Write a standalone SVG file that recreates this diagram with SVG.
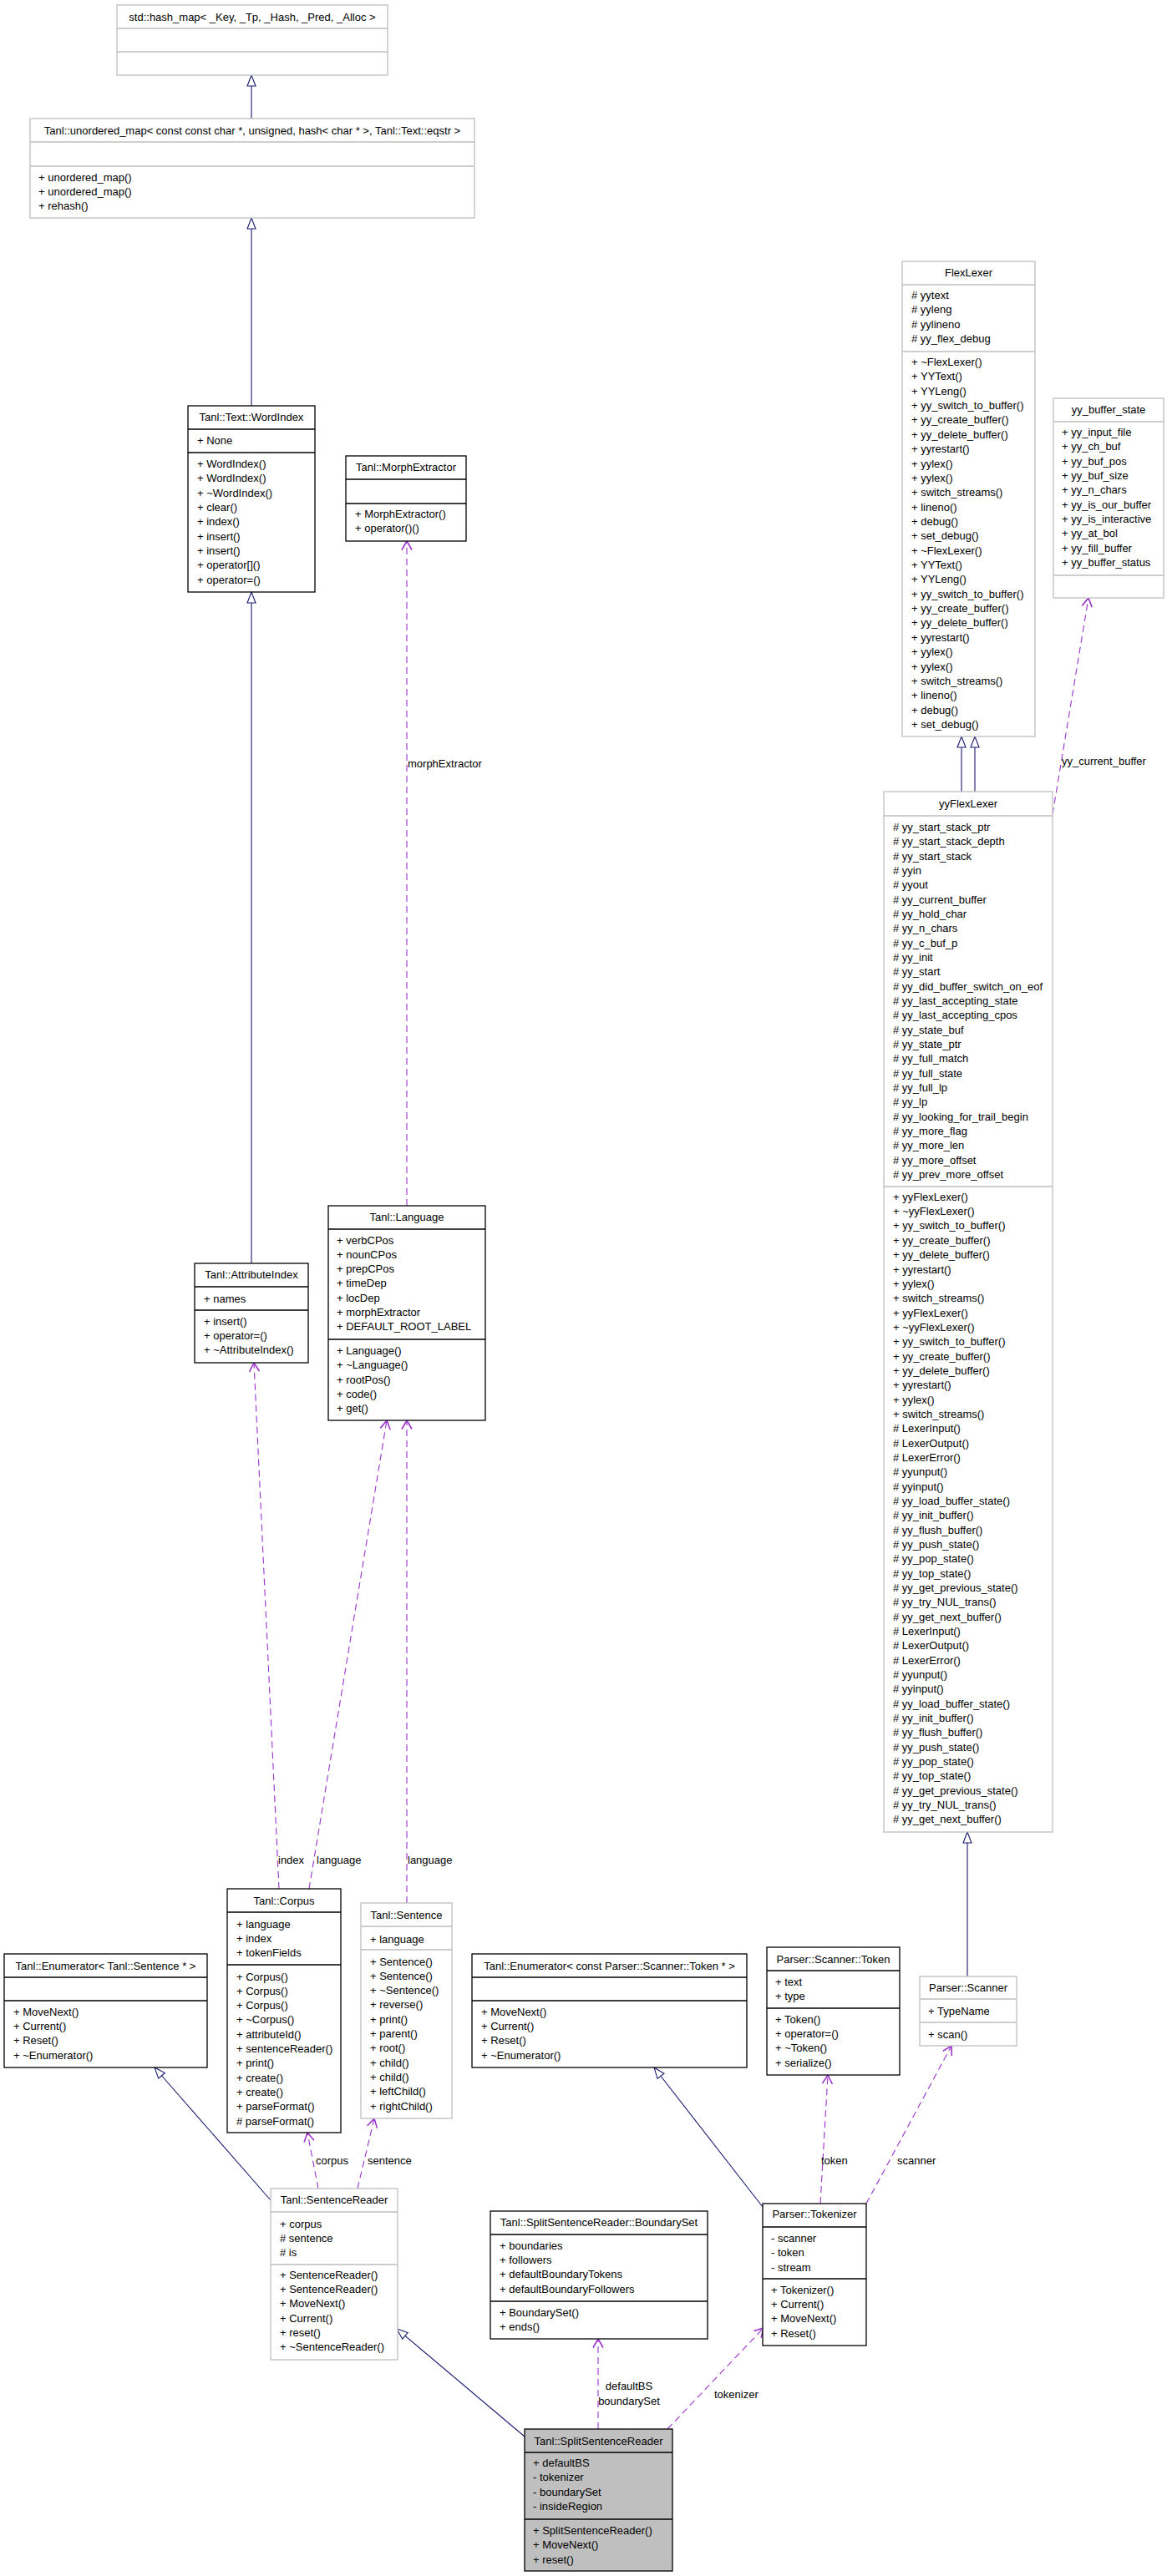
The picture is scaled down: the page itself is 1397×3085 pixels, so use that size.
<svg xmlns="http://www.w3.org/2000/svg" width="1397" height="3085" viewBox="0 0 1397 3085">
<style>
text{font-family:"Liberation Sans",Arial,Helvetica,sans-serif;font-size:13px;fill:#000}
.c{text-anchor:middle}
.bk{fill:#fff;stroke:#000;stroke-width:1.3}
.gr{fill:#fff;stroke:#bfbfbf;stroke-width:1.3}
.sel{fill:#bfbfbf;stroke:#000;stroke-width:1.3}
.dk{stroke:#000;stroke-width:1.3}
.dg{stroke:#bfbfbf;stroke-width:1.3}
.inh{fill:none;stroke:#191970;stroke-width:1.1;marker-end:url(#tri)}
.dep{fill:none;stroke:#9a32cd;stroke-width:1.1;stroke-dasharray:8,5;marker-end:url(#vee)}
</style>
<defs>
<marker id="tri" markerUnits="userSpaceOnUse" viewBox="0 0 15 12" markerWidth="15" markerHeight="12" refX="14" refY="6" orient="auto">
<path d="M1,1 L14,6 L1,11 Z" fill="#fff" stroke="#191970" stroke-width="1.1"/>
</marker>
<marker id="vee" markerUnits="userSpaceOnUse" viewBox="0 0 14 14" markerWidth="14" markerHeight="14" refX="12.5" refY="7" orient="auto">
<path d="M2,1 L12.5,7 L2,13" fill="none" stroke="#9a32cd" stroke-width="1.6" stroke-dasharray="none"/>
</marker>
</defs>
<rect width="1397" height="3085" fill="#fff"/>

<g id="connectors">
<path class="inh" d="M301,142 L301,90"/>
<path class="inh" d="M301,486 L301,261"/>
<path class="inh" d="M301,1513 L301,709"/>
<path class="inh" d="M1151,948 L1151,882"/>
<path class="inh" d="M1167,948 L1167,882"/>
<path class="inh" d="M1158,2367 L1158,2194"/>
<path class="inh" d="M324,2635 L185,2476"/>
<path class="inh" d="M628,2918 L475,2789"/>
<path class="inh" d="M913,2643 L783,2476"/>
<path class="dep" d="M487,1444 L487,648"/>
<path class="dep" d="M334,2262 L304,1632"/>
<path class="dep" d="M370,2262 L463,1701"/>
<path class="dep" d="M487,2279 L487,1701"/>
<path class="dep" d="M381,2621 L368,2554"/>
<path class="dep" d="M428,2621 L448,2537"/>
<path class="dep" d="M716,2909 L716,2801"/>
<path class="dep" d="M799,2909 L914,2788"/>
<path class="dep" d="M982,2639 L991,2485"/>
<path class="dep" d="M1037,2639 L1139,2450"/>
<path class="dep" d="M1260,975 L1303,716"/>
<text x="488" y="918.5">morphExtractor</text>
<text x="1271" y="915.5">yy_current_buffer</text>
<text x="333" y="2231.5">index</text>
<text x="379" y="2231.5">language</text>
<text x="488" y="2231.5">language</text>
<text x="378" y="2591.5">corpus</text>
<text x="440" y="2591.5">sentence</text>
<text x="983" y="2591.5">token</text>
<text x="1074" y="2591.5">scanner</text>
<text class="c" x="753" y="2861.5">defaultBS</text>
<text class="c" x="753" y="2879.5">boundarySet</text>
<text x="855" y="2871.5">tokenizer</text>
</g>

<g id="hash_map">
<rect class="gr" x="140" y="6" width="324" height="84"/>
<path class="dg" d="M140,34 H464 M140,62 H464"/>
<text class="c" x="302" y="24.5">std::hash_map&lt; _Key, _Tp, _Hash, _Pred, _Alloc &gt;</text>
</g>

<g id="unordered_map">
<rect class="gr" x="36" y="142" width="532" height="119"/>
<path class="dg" d="M36,170 H568 M36,199 H568"/>
<text class="c" x="302" y="160.5">Tanl::unordered_map&lt; const const char *, unsigned, hash&lt; char * &gt;, Tanl::Text::eqstr &gt;</text>
<text x="46" y="216.5"><tspan x="46">+ unordered_map()</tspan><tspan x="46" dy="17.4">+ unordered_map()</tspan><tspan x="46" dy="17.4">+ rehash()</tspan></text>
</g>

<g id="WordIndex">
<rect class="bk" x="225" y="486" width="152" height="223"/>
<path class="dk" d="M225,514 H377 M225,542 H377"/>
<text class="c" x="301" y="503.5">Tanl::Text::WordIndex</text>
<text x="236" y="531.5">+ None</text>
<text x="236" y="559.8"><tspan x="236">+ WordIndex()</tspan><tspan x="236" dy="17.35">+ WordIndex()</tspan><tspan x="236" dy="17.35">+ ~WordIndex()</tspan><tspan x="236" dy="17.35">+ clear()</tspan><tspan x="236" dy="17.35">+ index()</tspan><tspan x="236" dy="17.35">+ insert()</tspan><tspan x="236" dy="17.35">+ insert()</tspan><tspan x="236" dy="17.35">+ operator[]()</tspan><tspan x="236" dy="17.35">+ operator=()</tspan></text>
</g>

<g id="MorphExtractor">
<rect class="bk" x="414" y="546" width="144" height="102"/>
<path class="dk" d="M414,574 H558 M414,603 H558"/>
<text class="c" x="486" y="564">Tanl::MorphExtractor</text>
<text x="425" y="619.5"><tspan x="425">+ MorphExtractor()</tspan><tspan x="425" dy="17.4">+ operator()()</tspan></text>
</g>

<g id="FlexLexer">
<rect class="gr" x="1080" y="313" width="159" height="569"/>
<path class="dg" d="M1080,341 H1239 M1080,421 H1239"/>
<text class="c" x="1159.5" y="330.5">FlexLexer</text>
<text x="1091" y="358"><tspan x="1091"># yytext</tspan><tspan x="1091" dy="17.35"># yyleng</tspan><tspan x="1091" dy="17.35"># yylineno</tspan><tspan x="1091" dy="17.35"># yy_flex_debug</tspan></text>
<text x="1091" y="438"><tspan x="1091">+ ~FlexLexer()</tspan><tspan x="1091" dy="17.36">+ YYText()</tspan><tspan x="1091" dy="17.36">+ YYLeng()</tspan><tspan x="1091" dy="17.36">+ yy_switch_to_buffer()</tspan><tspan x="1091" dy="17.36">+ yy_create_buffer()</tspan><tspan x="1091" dy="17.36">+ yy_delete_buffer()</tspan><tspan x="1091" dy="17.36">+ yyrestart()</tspan><tspan x="1091" dy="17.36">+ yylex()</tspan><tspan x="1091" dy="17.36">+ yylex()</tspan><tspan x="1091" dy="17.36">+ switch_streams()</tspan><tspan x="1091" dy="17.36">+ lineno()</tspan><tspan x="1091" dy="17.36">+ debug()</tspan><tspan x="1091" dy="17.36">+ set_debug()</tspan><tspan x="1091" dy="17.36">+ ~FlexLexer()</tspan><tspan x="1091" dy="17.36">+ YYText()</tspan><tspan x="1091" dy="17.36">+ YYLeng()</tspan><tspan x="1091" dy="17.36">+ yy_switch_to_buffer()</tspan><tspan x="1091" dy="17.36">+ yy_create_buffer()</tspan><tspan x="1091" dy="17.36">+ yy_delete_buffer()</tspan><tspan x="1091" dy="17.36">+ yyrestart()</tspan><tspan x="1091" dy="17.36">+ yylex()</tspan><tspan x="1091" dy="17.36">+ yylex()</tspan><tspan x="1091" dy="17.36">+ switch_streams()</tspan><tspan x="1091" dy="17.36">+ lineno()</tspan><tspan x="1091" dy="17.36">+ debug()</tspan><tspan x="1091" dy="17.36">+ set_debug()</tspan></text>
</g>

<g id="yy_buffer_state">
<rect class="gr" x="1261" y="477" width="132" height="239"/>
<path class="dg" d="M1261,505 H1393 M1261,689 H1393"/>
<text class="c" x="1327" y="494.5">yy_buffer_state</text>
<text x="1271" y="522"><tspan x="1271">+ yy_input_file</tspan><tspan x="1271" dy="17.34">+ yy_ch_buf</tspan><tspan x="1271" dy="17.34">+ yy_buf_pos</tspan><tspan x="1271" dy="17.34">+ yy_buf_size</tspan><tspan x="1271" dy="17.34">+ yy_n_chars</tspan><tspan x="1271" dy="17.34">+ yy_is_our_buffer</tspan><tspan x="1271" dy="17.34">+ yy_is_interactive</tspan><tspan x="1271" dy="17.34">+ yy_at_bol</tspan><tspan x="1271" dy="17.34">+ yy_fill_buffer</tspan><tspan x="1271" dy="17.34">+ yy_buffer_status</tspan></text>
</g>

<g id="yyFlexLexer">
<rect class="gr" x="1058" y="948" width="202" height="1246"/>
<path class="dg" d="M1058,977 H1260 M1058,1421 H1260"/>
<text class="c" x="1159" y="967">yyFlexLexer</text>
<text x="1069" y="995"><tspan x="1069"># yy_start_stack_ptr</tspan><tspan x="1069" dy="17.33"># yy_start_stack_depth</tspan><tspan x="1069" dy="17.33"># yy_start_stack</tspan><tspan x="1069" dy="17.33"># yyin</tspan><tspan x="1069" dy="17.33"># yyout</tspan><tspan x="1069" dy="17.33"># yy_current_buffer</tspan><tspan x="1069" dy="17.33"># yy_hold_char</tspan><tspan x="1069" dy="17.33"># yy_n_chars</tspan><tspan x="1069" dy="17.33"># yy_c_buf_p</tspan><tspan x="1069" dy="17.33"># yy_init</tspan><tspan x="1069" dy="17.33"># yy_start</tspan><tspan x="1069" dy="17.33"># yy_did_buffer_switch_on_eof</tspan><tspan x="1069" dy="17.33"># yy_last_accepting_state</tspan><tspan x="1069" dy="17.33"># yy_last_accepting_cpos</tspan><tspan x="1069" dy="17.33"># yy_state_buf</tspan><tspan x="1069" dy="17.33"># yy_state_ptr</tspan><tspan x="1069" dy="17.33"># yy_full_match</tspan><tspan x="1069" dy="17.33"># yy_full_state</tspan><tspan x="1069" dy="17.33"># yy_full_lp</tspan><tspan x="1069" dy="17.33"># yy_lp</tspan><tspan x="1069" dy="17.33"># yy_looking_for_trail_begin</tspan><tspan x="1069" dy="17.33"># yy_more_flag</tspan><tspan x="1069" dy="17.33"># yy_more_len</tspan><tspan x="1069" dy="17.33"># yy_more_offset</tspan><tspan x="1069" dy="17.33"># yy_prev_more_offset</tspan></text>
<text x="1069" y="1437.8"><tspan x="1069">+ yyFlexLexer()</tspan><tspan x="1069" dy="17.34">+ ~yyFlexLexer()</tspan><tspan x="1069" dy="17.34">+ yy_switch_to_buffer()</tspan><tspan x="1069" dy="17.34">+ yy_create_buffer()</tspan><tspan x="1069" dy="17.34">+ yy_delete_buffer()</tspan><tspan x="1069" dy="17.34">+ yyrestart()</tspan><tspan x="1069" dy="17.34">+ yylex()</tspan><tspan x="1069" dy="17.34">+ switch_streams()</tspan><tspan x="1069" dy="17.34">+ yyFlexLexer()</tspan><tspan x="1069" dy="17.34">+ ~yyFlexLexer()</tspan><tspan x="1069" dy="17.34">+ yy_switch_to_buffer()</tspan><tspan x="1069" dy="17.34">+ yy_create_buffer()</tspan><tspan x="1069" dy="17.34">+ yy_delete_buffer()</tspan><tspan x="1069" dy="17.34">+ yyrestart()</tspan><tspan x="1069" dy="17.34">+ yylex()</tspan><tspan x="1069" dy="17.34">+ switch_streams()</tspan><tspan x="1069" dy="17.34"># LexerInput()</tspan><tspan x="1069" dy="17.34"># LexerOutput()</tspan><tspan x="1069" dy="17.34"># LexerError()</tspan><tspan x="1069" dy="17.34"># yyunput()</tspan><tspan x="1069" dy="17.34"># yyinput()</tspan><tspan x="1069" dy="17.34"># yy_load_buffer_state()</tspan><tspan x="1069" dy="17.34"># yy_init_buffer()</tspan><tspan x="1069" dy="17.34"># yy_flush_buffer()</tspan><tspan x="1069" dy="17.34"># yy_push_state()</tspan><tspan x="1069" dy="17.34"># yy_pop_state()</tspan><tspan x="1069" dy="17.34"># yy_top_state()</tspan><tspan x="1069" dy="17.34"># yy_get_previous_state()</tspan><tspan x="1069" dy="17.34"># yy_try_NUL_trans()</tspan><tspan x="1069" dy="17.34"># yy_get_next_buffer()</tspan><tspan x="1069" dy="17.34"># LexerInput()</tspan><tspan x="1069" dy="17.34"># LexerOutput()</tspan><tspan x="1069" dy="17.34"># LexerError()</tspan><tspan x="1069" dy="17.34"># yyunput()</tspan><tspan x="1069" dy="17.34"># yyinput()</tspan><tspan x="1069" dy="17.34"># yy_load_buffer_state()</tspan><tspan x="1069" dy="17.34"># yy_init_buffer()</tspan><tspan x="1069" dy="17.34"># yy_flush_buffer()</tspan><tspan x="1069" dy="17.34"># yy_push_state()</tspan><tspan x="1069" dy="17.34"># yy_pop_state()</tspan><tspan x="1069" dy="17.34"># yy_top_state()</tspan><tspan x="1069" dy="17.34"># yy_get_previous_state()</tspan><tspan x="1069" dy="17.34"># yy_try_NUL_trans()</tspan><tspan x="1069" dy="17.34"># yy_get_next_buffer()</tspan></text>
</g>

<g id="Language">
<rect class="bk" x="393" y="1444" width="188" height="257"/>
<path class="dk" d="M393,1472 H581 M393,1604 H581"/>
<text class="c" x="487" y="1462">Tanl::Language</text>
<text x="403" y="1489.5"><tspan x="403">+ verbCPos</tspan><tspan x="403" dy="17.3">+ nounCPos</tspan><tspan x="403" dy="17.3">+ prepCPos</tspan><tspan x="403" dy="17.3">+ timeDep</tspan><tspan x="403" dy="17.3">+ locDep</tspan><tspan x="403" dy="17.3">+ morphExtractor</tspan><tspan x="403" dy="17.3">+ DEFAULT_ROOT_LABEL</tspan></text>
<text x="403" y="1622"><tspan x="403">+ Language()</tspan><tspan x="403" dy="17.3">+ ~Language()</tspan><tspan x="403" dy="17.3">+ rootPos()</tspan><tspan x="403" dy="17.3">+ code()</tspan><tspan x="403" dy="17.3">+ get()</tspan></text>
</g>

<g id="AttributeIndex">
<rect class="bk" x="233" y="1513" width="136" height="119"/>
<path class="dk" d="M233,1541 H369 M233,1569 H369"/>
<text class="c" x="301" y="1530.5">Tanl::AttributeIndex</text>
<text x="244" y="1559.5">+ names</text>
<text x="244" y="1586.5"><tspan x="244">+ insert()</tspan><tspan x="244" dy="17.3">+ operator=()</tspan><tspan x="244" dy="17.3">+ ~AttributeIndex()</tspan></text>
</g>

<g id="Enumerator_Sentence">
<rect class="bk" x="5" y="2340" width="243" height="136"/>
<path class="dk" d="M5,2368 H248 M5,2396 H248"/>
<text class="c" x="126.5" y="2358.5">Tanl::Enumerator&lt; Tanl::Sentence * &gt;</text>
<text x="16" y="2413.5"><tspan x="16">+ MoveNext()</tspan><tspan x="16" dy="17.35">+ Current()</tspan><tspan x="16" dy="17.35">+ Reset()</tspan><tspan x="16" dy="17.35">+ ~Enumerator()</tspan></text>
</g>

<g id="Corpus">
<rect class="bk" x="272" y="2262" width="136" height="292"/>
<path class="dk" d="M272,2290 H408 M272,2353 H408"/>
<text class="c" x="340" y="2280.5">Tanl::Corpus</text>
<text x="283" y="2308.5"><tspan x="283">+ language</tspan><tspan x="283" dy="17.35">+ index</tspan><tspan x="283" dy="17.35">+ tokenFields</tspan></text>
<text x="283" y="2371.5"><tspan x="283">+ Corpus()</tspan><tspan x="283" dy="17.3">+ Corpus()</tspan><tspan x="283" dy="17.3">+ Corpus()</tspan><tspan x="283" dy="17.3">+ ~Corpus()</tspan><tspan x="283" dy="17.3">+ attributeId()</tspan><tspan x="283" dy="17.3">+ sentenceReader()</tspan><tspan x="283" dy="17.3">+ print()</tspan><tspan x="283" dy="17.3">+ create()</tspan><tspan x="283" dy="17.3">+ create()</tspan><tspan x="283" dy="17.3">+ parseFormat()</tspan><tspan x="283" dy="17.3"># parseFormat()</tspan></text>
</g>

<g id="Sentence">
<rect class="gr" x="432" y="2279" width="109" height="258"/>
<path class="dg" d="M432,2307 H541 M432,2335 H541"/>
<text class="c" x="486.5" y="2297.5">Tanl::Sentence</text>
<text x="443" y="2326.5">+ language</text>
<text x="443" y="2353.5"><tspan x="443">+ Sentence()</tspan><tspan x="443" dy="17.3">+ Sentence()</tspan><tspan x="443" dy="17.3">+ ~Sentence()</tspan><tspan x="443" dy="17.3">+ reverse()</tspan><tspan x="443" dy="17.3">+ print()</tspan><tspan x="443" dy="17.3">+ parent()</tspan><tspan x="443" dy="17.3">+ root()</tspan><tspan x="443" dy="17.3">+ child()</tspan><tspan x="443" dy="17.3">+ child()</tspan><tspan x="443" dy="17.3">+ leftChild()</tspan><tspan x="443" dy="17.3">+ rightChild()</tspan></text>
</g>

<g id="SentenceReader">
<rect class="gr" x="324" y="2621" width="152" height="205"/>
<path class="dg" d="M324,2649 H476 M324,2712 H476"/>
<text class="c" x="400" y="2638.5">Tanl::SentenceReader</text>
<text x="335" y="2667.5"><tspan x="335">+ corpus</tspan><tspan x="335" dy="17.1"># sentence</tspan><tspan x="335" dy="17.1"># is</tspan></text>
<text x="335" y="2728.5"><tspan x="335">+ SentenceReader()</tspan><tspan x="335" dy="17.35">+ SentenceReader()</tspan><tspan x="335" dy="17.35">+ MoveNext()</tspan><tspan x="335" dy="17.35">+ Current()</tspan><tspan x="335" dy="17.35">+ reset()</tspan><tspan x="335" dy="17.35">+ ~SentenceReader()</tspan></text>
</g>

<g id="BoundarySet">
<rect class="bk" x="587" y="2648" width="260" height="153"/>
<path class="dk" d="M587,2676 H847 M587,2756 H847"/>
<text class="c" x="717" y="2665.5">Tanl::SplitSentenceReader::BoundarySet</text>
<text x="598" y="2693.5"><tspan x="598">+ boundaries</tspan><tspan x="598" dy="17.35">+ followers</tspan><tspan x="598" dy="17.35">+ defaultBoundaryTokens</tspan><tspan x="598" dy="17.35">+ defaultBoundaryFollowers</tspan></text>
<text x="598" y="2773.5"><tspan x="598">+ BoundarySet()</tspan><tspan x="598" dy="17.35">+ ends()</tspan></text>
</g>

<g id="SplitSentenceReader">
<rect class="sel" x="628" y="2909" width="177" height="170"/>
<path class="dk" d="M628,2937 H805 M628,3017 H805"/>
<text class="c" x="716.5" y="2927.5">Tanl::SplitSentenceReader</text>
<text x="638" y="2953.5"><tspan x="638">+ defaultBS</tspan><tspan x="638" dy="17.5">- tokenizer</tspan><tspan x="638" dy="17.5">- boundarySet</tspan><tspan x="638" dy="17.5">- insideRegion</tspan></text>
<text x="638" y="3034.5"><tspan x="638">+ SplitSentenceReader()</tspan><tspan x="638" dy="17.8">+ MoveNext()</tspan><tspan x="638" dy="17.8">+ reset()</tspan></text>
</g>

<g id="Enumerator_Token">
<rect class="bk" x="565" y="2340" width="329" height="136"/>
<path class="dk" d="M565,2368 H894 M565,2396 H894"/>
<text class="c" x="729.5" y="2358.5">Tanl::Enumerator&lt; const Parser::Scanner::Token * &gt;</text>
<text x="576" y="2413.5"><tspan x="576">+ MoveNext()</tspan><tspan x="576" dy="17.35">+ Current()</tspan><tspan x="576" dy="17.35">+ Reset()</tspan><tspan x="576" dy="17.35">+ ~Enumerator()</tspan></text>
</g>

<g id="Token">
<rect class="bk" x="918" y="2332" width="159" height="153"/>
<path class="dk" d="M918,2360 H1077 M918,2405 H1077"/>
<text class="c" x="997.5" y="2350.5">Parser::Scanner::Token</text>
<text x="928" y="2377.5"><tspan x="928">+ text</tspan><tspan x="928" dy="17.3">+ type</tspan></text>
<text x="928" y="2422.5"><tspan x="928">+ Token()</tspan><tspan x="928" dy="17.35">+ operator=()</tspan><tspan x="928" dy="17.35">+ ~Token()</tspan><tspan x="928" dy="17.35">+ serialize()</tspan></text>
</g>

<g id="Scanner">
<rect class="gr" x="1101" y="2367" width="116" height="83"/>
<path class="dg" d="M1101,2394 H1217 M1101,2422 H1217"/>
<text class="c" x="1159" y="2384.5">Parser::Scanner</text>
<text x="1111" y="2412.5">+ TypeName</text>
<text x="1111" y="2440.5">+ scan()</text>
</g>

<g id="Tokenizer">
<rect class="bk" x="913" y="2639" width="124" height="170"/>
<path class="dk" d="M913,2667 H1037 M913,2729 H1037"/>
<text class="c" x="975" y="2655.5">Parser::Tokenizer</text>
<text x="923" y="2684.5"><tspan x="923">- scanner</tspan><tspan x="923" dy="17.5">- token</tspan><tspan x="923" dy="17.5">- stream</tspan></text>
<text x="923" y="2746.5"><tspan x="923">+ Tokenizer()</tspan><tspan x="923" dy="17.35">+ Current()</tspan><tspan x="923" dy="17.35">+ MoveNext()</tspan><tspan x="923" dy="17.35">+ Reset()</tspan></text>
</g>
</svg>
